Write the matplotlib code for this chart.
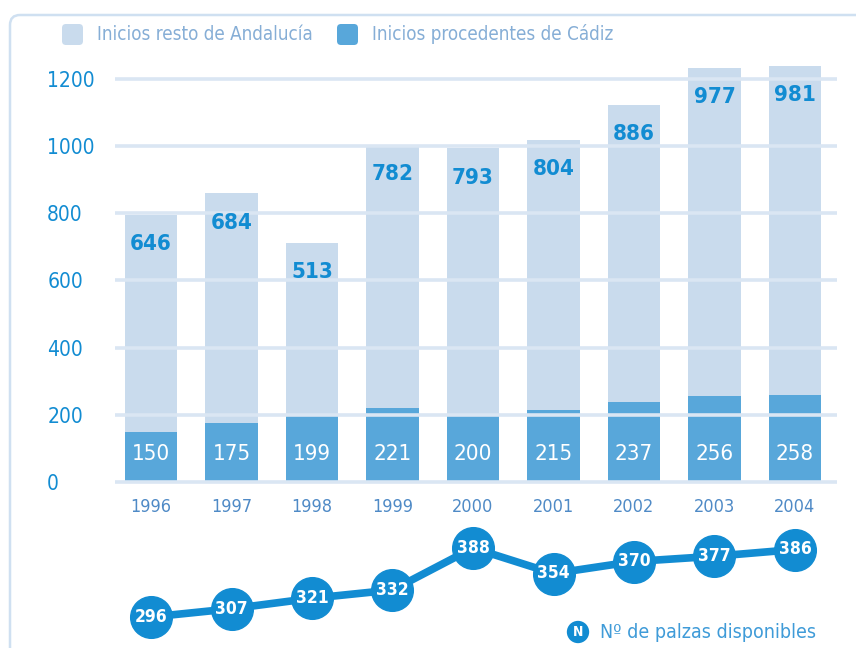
import numpy as np
import matplotlib
matplotlib.use("Agg")
import matplotlib.pyplot as plt
from matplotlib.patches import FancyBboxPatch
from matplotlib.transforms import IdentityTransform

# data
years = ["1996", "1997", "1998", "1999", "2000", "2001", "2002", "2003", "2004"]
cadiz = [150, 175, 199, 221, 200, 215, 237, 256, 258]
resto = [646, 684, 513, 782, 793, 804, 886, 977, 981]
plazas = [296, 307, 321, 332, 388, 354, 370, 377, 386]
yticks = [0, 200, 400, 600, 800, 1000, 1200]

LIGHT = "#c9dbed"
DARK = "#58a7da"
BLUE = "#128cd2"
GRID = "#dae6f3"
LEGEND_TXT = "#86aed6"

plt.rcParams["font.family"] = ["DejaVu Sans"]
plt.rcParams["font.stretch"] = "condensed"

W, H = 856, 648
fig = plt.figure(figsize=(W / 100, H / 100), dpi=100)


def px_axes(left, top, right, bottom):
    return fig.add_axes([left / W, 1 - bottom / H, (right - left) / W, (bottom - top) / H])


# bar geometry in pixels: first bar centre 151, step 80.5; y=0 at 482, 0.336 px/unit
x0, step = 151, 80.5
ypx0, yscale = 482, 0.336
xlim = ((100 - x0) / step, (845 - x0) / step)

x = np.arange(len(years))

ax = px_axes(100, 50, 845, 490)
ax.bar(x, cadiz, width=0.65, color=DARK, zorder=2)
ax.bar(x, resto, bottom=cadiz, width=0.65, color=LIGHT, zorder=2)
ax.set_xlim(*xlim)
ax.set_ylim(-(490 - ypx0) / yscale, (ypx0 - 50) / yscale)

ax.hlines(yticks, (115 - x0) / step, (837 - x0) / step, color=GRID, lw=2.6, zorder=3)

for i in x:
    ax.annotate(str(resto[i]), (i, cadiz[i] + resto[i]), xytext=(0, -21), textcoords="offset points",
                ha="center", va="center", color=BLUE, fontsize=16, fontweight="bold", zorder=4)
    ax.annotate(str(cadiz[i]), (i, 0), xytext=(0, 20), textcoords="offset points",
                ha="center", va="center", color="white", fontsize=16, zorder=4)

ax.set_yticks(yticks)
ax.set_yticklabels([str(v) for v in yticks], color=BLUE, fontsize=15)
for lbl in ax.get_yticklabels():
    lbl.set_ha("left")
ax.tick_params(axis="y", length=0, pad=38)
ax.set_xticks(x, years, color="#4f8ac6", fontsize=13)
ax.tick_params(axis="x", length=0, pad=6)
for s in ax.spines.values():
    s.set_visible(False)

# line with available places
ax2 = px_axes(100, 520, 845, 648)
ax2.plot(x, plazas, color=BLUE, lw=5.5, marker="o", ms=30, solid_capstyle="round")
for i in x:
    ax2.text(i, plazas[i], str(plazas[i]), ha="center", va="center", color="white",
             fontsize=12.5, fontweight="bold")
ax2.set_xlim(*xlim)
ax2.set_ylim(296 - (648 - 617) / 0.75, 388 + (548 - 520) / 0.75)
ax2.axis("off")

# frame and legends, in pixel coordinates
ident = IdentityTransform()
fig.patches.append(FancyBboxPatch((10, -60), 900, H - 15 + 60, boxstyle="round,pad=0,rounding_size=10",
                                  fc="none", ec="#cfe0f1", lw=1.8, transform=ident, figure=fig))
for lx, col, txt in [(62, LIGHT, "Inicios resto de Andalucía"), (337, DARK, "Inicios procedentes de Cádiz")]:
    fig.patches.append(FancyBboxPatch((lx, H - 45), 21, 21, boxstyle="round,pad=0,rounding_size=4",
                                      fc=col, ec="none", transform=ident, figure=fig))
    fig.text((lx + 35) / W, 1 - 34 / H, txt, color=LEGEND_TXT, fontsize=13.5, va="center")

fig.text(578 / W, 1 - 632 / H, "N", color="white", fontsize=10, fontweight="bold", ha="center", va="center",
         bbox=dict(boxstyle="circle,pad=0.3", fc=BLUE, ec="none"))
fig.text(600 / W, 1 - 632 / H, "Nº de palzas disponibles", color="#3f9bd8", fontsize=14, va="center")

fig.savefig("out.png", dpi=100)
